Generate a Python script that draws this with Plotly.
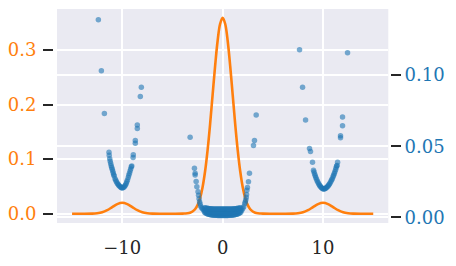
import plotly.graph_objects as go

# ---- orange density line (left axis) ----
line_x = [-15, -14, -13, -12.5, -12, -11.5, -11, -10.5, -10, -9.5, -9, -8.5, -8, -7.5, -7, -6, -5,
          -4, -3.75, -3.5, -3.25, -3, -2.75, -2.5, -2.25, -2, -1.75, -1.5, -1.25, -1, -0.75, -0.5, -0.25,
          0, 0.25, 0.5, 0.75, 1, 1.25, 1.5, 1.75, 2, 2.25, 2.5, 2.75, 3, 3.25, 3.5, 3.75, 4,
          5, 6, 7, 7.5, 8, 8.5, 9, 9.5, 10, 10.5, 11, 11.5, 12, 12.5, 13, 14, 15]
line_y = [0.0, 0.0, 0.0002, 0.0009, 0.0027, 0.0065, 0.0121, 0.0176, 0.0200, 0.0176, 0.0121, 0.0065, 0.0027, 0.0009, 0.0002, 0.0, 0.0,
          0.0001, 0.0004, 0.0008, 0.0018, 0.0040, 0.0082, 0.0158, 0.0285, 0.0486, 0.0777, 0.1166, 0.1643, 0.2178, 0.2710, 0.3169, 0.3480,
          0.3590, 0.3480, 0.3169, 0.2710, 0.2178, 0.1643, 0.1166, 0.0777, 0.0486, 0.0285, 0.0158, 0.0082, 0.0040, 0.0018, 0.0008, 0.0004, 0.0001,
          0.0, 0.0, 0.0002, 0.0009, 0.0027, 0.0065, 0.0121, 0.0176, 0.0200, 0.0176, 0.0121, 0.0065, 0.0027, 0.0009, 0.0002, 0.0, 0.0]

# ---- blue scatter (right axis) ----
# cluster near -10
left_x = [-12.38, -12.08, -11.78, -8.10, -8.20, -8.50, -8.50, -8.70, -8.70, -8.90, -8.92, -9.05,
          -11.32, -11.30, -11.25, -11.20, -11.15, -11.10, -11.05, -11.00, -10.95, -10.90, -10.85, -10.80,
          -10.72, -10.65, -10.58, -10.50, -10.42, -10.35, -10.28, -10.20, -10.12, -10.05, -9.98, -9.90,
          -9.82, -9.75, -9.68, -9.60, -9.55, -9.48, -9.40, -9.35, -9.28, -9.22, -9.16, -9.10]
left_y = [0.139, 0.103, 0.073, 0.0915, 0.085, 0.065, 0.0625, 0.054, 0.052, 0.044, 0.042, 0.036,
          0.0458, 0.0437, 0.0412, 0.0395, 0.0378, 0.0362, 0.0350, 0.0338, 0.0325, 0.0312, 0.0300, 0.0290,
          0.0272, 0.0260, 0.0250, 0.0240, 0.0232, 0.0225, 0.0220, 0.0215, 0.0210, 0.0208, 0.0207, 0.0210,
          0.0214, 0.0220, 0.0228, 0.0238, 0.0250, 0.0262, 0.0280, 0.0295, 0.0310, 0.0325, 0.0340, 0.0355]

# cluster near 0: outliers and walls
mid_x = [-3.24, -2.81, -2.74, -2.74, -2.64, -2.57, 3.34, 3.17, 3.07, 2.67, 2.57, 2.47, 2.41,
         -2.45, -2.40, -2.35, -2.30, -2.25, -2.20, -2.10, -2.00, -1.90,
         1.90, 2.00, 2.10, 2.20, 2.25, 2.30, 2.35, 2.38]
mid_y = [0.0563, 0.0345, 0.0310, 0.0297, 0.0252, 0.0215, 0.072, 0.054, 0.0505, 0.031, 0.025, 0.021, 0.019,
         0.0180, 0.0155, 0.0130, 0.0110, 0.0095, 0.0080, 0.0068, 0.0060, 0.0052,
         0.0050, 0.0062, 0.0075, 0.0095, 0.0108, 0.0122, 0.0140, 0.0160]

# cluster near 0: dense band along the bottom
band_x = [-1.8, -1.7, -1.6, -1.5, -1.4, -1.3, -1.2, -1.1, -1.0, -0.9, -0.8, -0.7, -0.6, -0.5, -0.4, -0.3, -0.2, -0.1,
          0.0, 0.1, 0.2, 0.3, 0.4, 0.5, 0.6, 0.7, 0.8, 0.9, 1.0, 1.1, 1.2, 1.3, 1.4, 1.5, 1.6, 1.7, 1.8]
band_low_y = [0.0035, 0.0030, 0.0027, 0.0024, 0.0022, 0.0020, 0.0018, 0.0017, 0.0016, 0.0015, 0.0015, 0.0014, 0.0014, 0.0013, 0.0013, 0.0013, 0.0012, 0.0012,
              0.0012, 0.0012, 0.0012, 0.0013, 0.0013, 0.0013, 0.0014, 0.0014, 0.0015, 0.0015, 0.0016, 0.0017, 0.0018, 0.0020, 0.0022, 0.0024, 0.0027, 0.0030, 0.0035]
band_mid_y = [0.0048, 0.0045, 0.0042, 0.0040, 0.0038, 0.0037, 0.0036, 0.0035, 0.0035, 0.0034, 0.0034, 0.0034, 0.0034, 0.0034, 0.0034, 0.0034, 0.0034, 0.0034,
              0.0034, 0.0034, 0.0034, 0.0034, 0.0034, 0.0034, 0.0034, 0.0034, 0.0034, 0.0034, 0.0035, 0.0035, 0.0036, 0.0037, 0.0038, 0.0040, 0.0042, 0.0045, 0.0048]
band_up_y = [0.0068, 0.0066, 0.0064, 0.0063, 0.0062, 0.0061, 0.0060, 0.0060, 0.0059, 0.0059, 0.0058, 0.0058, 0.0058, 0.0058, 0.0058, 0.0058, 0.0058, 0.0058,
             0.0058, 0.0058, 0.0058, 0.0058, 0.0058, 0.0058, 0.0058, 0.0058, 0.0058, 0.0059, 0.0059, 0.0060, 0.0060, 0.0061, 0.0062, 0.0063, 0.0064, 0.0066, 0.0068]

# cluster near +10
right_x = [7.66, 12.44, 7.96, 8.26, 11.94, 11.94, 11.74, 11.74, 8.65, 8.75, 8.95, 11.45, 11.40,
           9.05, 9.10, 9.16, 9.22, 9.28, 9.35, 9.42, 9.50, 9.58, 9.65, 9.72, 9.80, 9.88, 9.95,
           10.02, 10.10, 10.18, 10.25, 10.32, 10.40, 10.48, 10.55, 10.62, 10.70, 10.78, 10.85,
           10.92, 11.00, 11.05, 11.12, 11.18, 11.25, 11.30, 11.35]
right_y = [0.1178, 0.1157, 0.0914, 0.0685, 0.0706, 0.0644, 0.0574, 0.0560, 0.0484, 0.0463, 0.0387, 0.0387, 0.0365,
           0.0331, 0.0318, 0.0305, 0.0292, 0.0280, 0.0268, 0.0256, 0.0245, 0.0235, 0.0226, 0.0218, 0.0212, 0.0206, 0.0202,
           0.0199, 0.0199, 0.0201, 0.0204, 0.0208, 0.0213, 0.0219, 0.0226, 0.0233, 0.0242, 0.0252, 0.0262,
           0.0272, 0.0285, 0.0295, 0.0308, 0.0320, 0.0335, 0.0348, 0.0360]

groups = [(left_x, left_y), (mid_x, mid_y), (band_x, band_low_y), (band_x, band_mid_y),
          (band_x, band_up_y), (right_x, right_y)]
scatter_x, scatter_y = [], []
for gx, gy in groups:
    assert len(gx) == len(gy)
    scatter_x += gx
    scatter_y += gy

x_ticks = [-10, 0, 10]
x_tick_labels = ["\u221210", "0", "10"]
left_ticks = [0.0, 0.1, 0.2, 0.3]
left_tick_labels = ["0.0", "0.1", "0.2", "0.3"]
right_ticks = [0.0, 0.05, 0.10]
right_tick_labels = ["0.00", "0.05", "0.10"]

ORANGE = "#ff7f0e"
BLUE = "#1f77b4"
FONT = "DejaVu Serif"
FS = 18

fig = go.Figure()
fig.add_trace(go.Scatter(x=line_x, y=line_y, mode="lines", line=dict(color=ORANGE, width=2.6, shape="spline"),
                         yaxis="y", showlegend=False, hoverinfo="skip"))
fig.add_trace(go.Scatter(x=scatter_x, y=scatter_y, mode="markers",
                         marker=dict(color=BLUE, size=5.5, opacity=0.6, line=dict(width=0)),
                         yaxis="y2", showlegend=False, hoverinfo="skip"))

W, H = 456, 266
l, r, t, b = 53, 66, 9, 43
pw = W - l - r
fig.update_layout(
    width=W, height=H,
    margin=dict(l=l, r=r, t=t, b=b, autoexpand=False),
    paper_bgcolor="white",
    plot_bgcolor="#eaeaf2",
    font=dict(family=FONT, size=FS, color="#262626"),
    xaxis=dict(domain=[4 / pw, (388.3 - l) / pw], range=[-16.5, 16.5],
               tickvals=x_ticks, ticktext=x_tick_labels, automargin=False,
               tickfont=dict(family=FONT, size=FS, color="#262626"),
               showgrid=True, gridcolor="white", gridwidth=1.6, zeroline=False,
               showline=False, ticks="", ticklabelstandoff=12),
    yaxis=dict(anchor="free", position=0, range=[-0.017, 0.375], automargin=False,
               tickvals=left_ticks, ticktext=left_tick_labels,
               tickfont=dict(color=ORANGE, family=FONT, size=FS),
               showgrid=True, gridcolor="white", gridwidth=1.6, zeroline=False,
               showline=False, ticks="outside", ticklen=10, tickwidth=2, tickcolor="#262626",
               ticklabelstandoff=3),
    yaxis2=dict(anchor="free", position=1, overlaying="y", side="right", range=[-0.004, 0.1465],
                automargin=False,
                tickvals=right_ticks, ticktext=right_tick_labels,
                tickfont=dict(color=BLUE, family=FONT, size=FS),
                showgrid=True, gridcolor="white", gridwidth=1.6, zeroline=False,
                showline=False, ticks="outside", ticklen=10, tickwidth=2, tickcolor="#262626",
                ticklabelstandoff=0),
)

fig.write_html("out.html", config={"displayModeBar": False},
               post_script="document.body.style.margin='0';document.body.style.padding='0';")
